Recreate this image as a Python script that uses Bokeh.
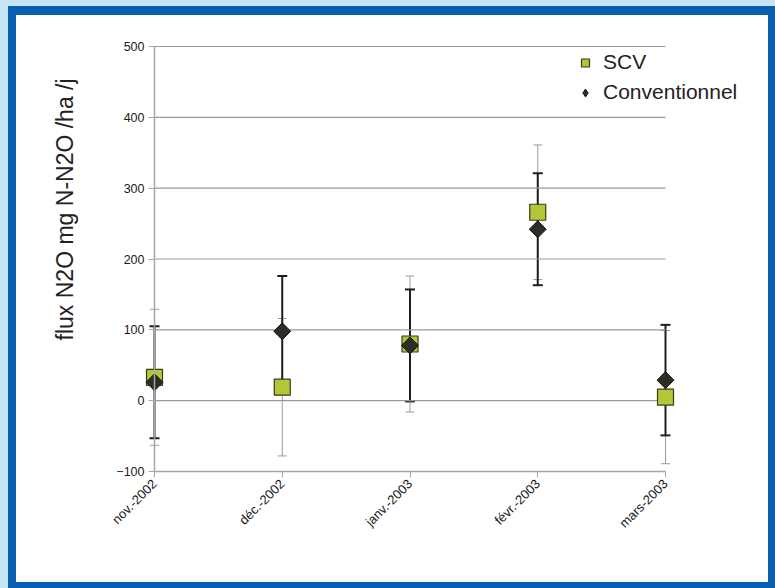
import numpy as np
from bokeh.plotting import figure
from bokeh.models import ColumnDataSource, Whisker, TeeHead, FixedTicker, Label, Legend, LegendItem
from bokeh.embed import file_html
from bokeh.resources import INLINE

# ---- data ----
months = ["nov.-2002", "déc.-2002", "janv.-2003", "févr.-2003", "mars-2003"]
scv = [33, 19, 80, 266, 5]
scv_err = [96, 97, 96, 95, 94]
conv = [26, 98, 78, 242, 29]
conv_err = [79, 78, 79, 79, 78]
y_ticks = [-100, 0, 100, 200, 300, 400, 500]

xs = list(range(len(months)))
src_scv = ColumnDataSource(dict(x=xs, y=scv,
                                lo=[v - e for v, e in zip(scv, scv_err)],
                                hi=[v + e for v, e in zip(scv, scv_err)]))
src_conv = ColumnDataSource(dict(x=xs, y=conv,
                                 lo=[v - e for v, e in zip(conv, conv_err)],
                                 hi=[v + e for v, e in zip(conv, conv_err)]))
src_grid = ColumnDataSource(dict(y=y_ticks, x0=[0] * len(y_ticks), x1=[len(months) - 1] * len(y_ticks)))

FONT = "Liberation Sans"

# frame spans page x 36..766, y 17..580; category 0 at x 154, 4 at 665; 500 at y 46, -100 at y 471
PXX = (665 - 154) / 4
PXY = (471 - 46) / 600
X0 = (36 - 154) / PXX
X1 = 4 + (766 - 665) / PXX
Y0 = -100 - (580 - 471) / PXY
Y1 = 500 + (46 - 17) / PXY

p = figure(width=752, height=567, output_backend="svg", toolbar_location=None,
           x_range=(X0, X1), y_range=(Y0, Y1),
           min_border_left=20, min_border_right=2, min_border_top=2, min_border_bottom=2)
p.outline_line_color = None
p.background_fill_color = "white"
p.border_fill_color = "white"
p.xgrid.grid_line_color = None
p.ygrid.grid_line_color = None

# axes
p.xaxis.ticker = FixedTicker(ticks=xs)
p.xaxis.bounds = (0, len(months) - 1)
p.xaxis.fixed_location = -100
p.xaxis.major_label_overrides = {i: m for i, m in enumerate(months)}
p.xaxis.major_label_orientation = np.pi / 4
p.yaxis.ticker = FixedTicker(ticks=y_ticks)
p.yaxis.bounds = (-100, 500)
p.yaxis.fixed_location = 0
for ax in (p.xaxis, p.yaxis):
    ax.axis_line_color = "#a6a6a6"
    ax.axis_line_width = 1.5
    ax.major_tick_line_color = "#a6a6a6"
    ax.major_tick_in = 0
    ax.major_tick_out = 6
    ax.minor_tick_line_color = None
    ax.major_label_text_font = FONT
    ax.major_label_text_color = "#1a1a1a"
p.xaxis.major_label_text_font_size = "13px"
p.yaxis.major_label_text_font_size = "12.5px"
p.xaxis.major_label_standoff = 4
p.yaxis.major_label_standoff = 4

# horizontal grid lines from tick values
p.segment(x0="x0", x1="x1", y0="y", y1="y", source=src_grid,
          line_color="#9a9a9a", line_width=1.2)

# error bars SCV (thin grey)
w1 = Whisker(source=src_scv, base="x", lower="lo", upper="hi", dimension="height",
             line_color="#9c9c9c", line_width=1,
             lower_head=TeeHead(size=9, line_color="#9c9c9c", line_width=1),
             upper_head=TeeHead(size=9, line_color="#9c9c9c", line_width=1))
p.add_layout(w1)

r_scv = p.scatter("x", "y", source=src_scv, marker="square", size=16,
                  fill_color="#b3c63a", line_color="#3a3c14", line_width=1.2)

w2 = Whisker(source=src_conv, base="x", lower="lo", upper="hi", dimension="height",
             line_color="#1e1e1e", line_width=2,
             lower_head=TeeHead(size=10, line_color="#1e1e1e", line_width=2),
             upper_head=TeeHead(size=10, line_color="#1e1e1e", line_width=2))
p.add_layout(w2)

# diamond glyph (used for the legend entry); it lies fully under the wider rotated square
r_conv_leg = p.scatter("x", "y", source=src_conv, marker="diamond", size=14,
                       fill_color="#2b2e24", line_color="#1a1a1a", line_width=1)
r_conv = p.scatter("x", "y", source=src_conv, marker="square", size=12, angle=np.pi / 4,
                   fill_color="#2b2e24", line_color="#1a1a1a", line_width=1)

legend = Legend(items=[LegendItem(label="SCV", renderers=[r_scv]),
                       LegendItem(label="Conventionnel", renderers=[r_conv_leg])],
                location=(539, 580 - 105.5), padding=0, margin=0, spacing=3,
                glyph_width=20, glyph_height=27, label_height=27, label_standoff=8,
                label_text_font=FONT, label_text_font_size="21px", label_text_color="#222222",
                border_line_color=None, background_fill_alpha=0)
p.add_layout(legend)

ylab = Label(x=(64 - 154) / PXX, y=270, text="flux N2O mg N-N2O /ha /j", angle=np.pi / 2,
             text_align="center", text_baseline="middle",
             text_font=FONT, text_font_size="23px", text_color="#222222")
p.add_layout(ylab)

html = file_html(p, INLINE)
css = ("<style>html{background:linear-gradient(#c6e6f8,#c6e6f8) 0 0/100% 6px no-repeat,"
       "linear-gradient(#c6e6f8,#c6e6f8) 0 0/8px 100% no-repeat,#0a5fae;overflow:hidden;}"
       "body{margin:15px 0 0 16px;width:752px;height:567px;background:#ffffff;overflow:hidden;}</style>")
html = html.replace("</head>", css + "</head>")
open("out.html", "w").write(html)
